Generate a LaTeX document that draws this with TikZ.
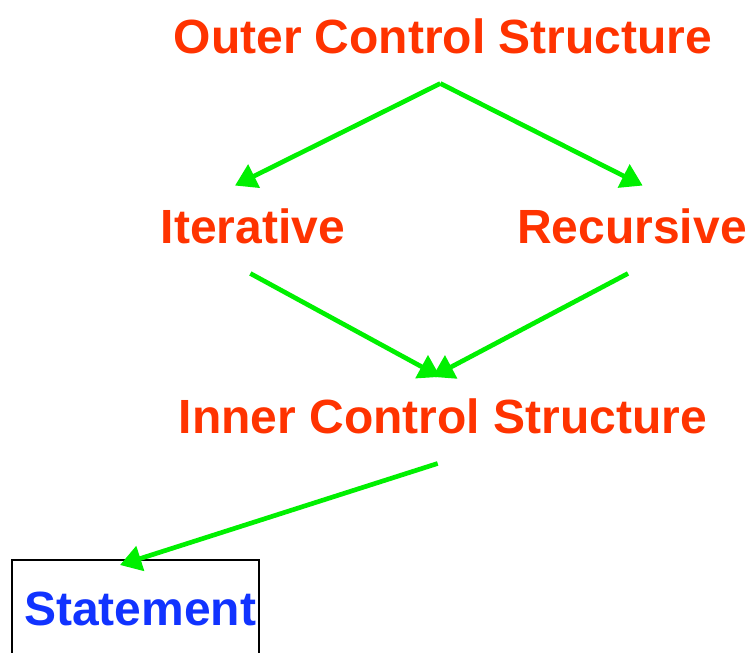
\documentclass[tikz,border=0pt]{standalone}
\usepackage{fontspec}
\setmainfont{Liberation Sans}
\usepackage{tikz}
\usetikzlibrary{arrows.meta,calc}
\definecolor{lblred}{RGB}{255,51,0}
\definecolor{flowgreen}{RGB}{0,240,0}
\definecolor{stmtblue}{RGB}{17,51,255}

\begin{document}
\begin{tikzpicture}[x=0.75pt,y=-0.75pt,
        lbl/.style={text=lblred, font=\fontsize{36}{40}\selectfont\bfseries, inner sep=0pt, outer sep=18pt, anchor=base},
        flow/.style={draw=flowgreen, line width=3.5pt, -{Triangle[length=16pt,width=19pt]}}]
        \useasboundingbox (0,0) rectangle (753,653);
        % levels of the control structure
        \node[lbl] (outer) at (443,53) {Outer Control Structure};
        \node[lbl] (iter) at (253,243) {Iterative};
        \node[lbl] (rec) at (632,243) {Recursive};
        \node[lbl] (inner) at (443,433) {Inner Control Structure};
        % the statement box runs off the bottom
        \draw[line width=1.5pt] (12,560) rectangle (259,700);
        \coordinate (stmtbox) at (12,560);
        \node[text=stmtblue, font=\fontsize{36}{40}\selectfont\bfseries, inner sep=0pt, anchor=base west] (stmt) at (24,625) {Statement};
        \draw[flow] ([xshift=-2pt,yshift=-4.5pt]outer.south) -- ([xshift=-13.5pt,yshift=-1pt]iter.north);
        \draw[flow] ([xshift=-2pt,yshift=-4.5pt]outer.south) -- ([xshift=8pt,yshift=-1pt]rec.north);
        \draw[flow] ([xshift=-2pt,yshift=-4.5pt]iter.south) -- ([xshift=-2pt,yshift=-2pt]inner.north);
        \draw[flow] ([xshift=-3pt,yshift=-4.5pt]rec.south) -- ([xshift=-8pt,yshift=-2pt]inner.north);
        \draw[flow] ([xshift=-4pt,yshift=-4.5pt]inner.south) -- ($(stmtbox)+(108,5)$);
\end{tikzpicture}
\end{document}
